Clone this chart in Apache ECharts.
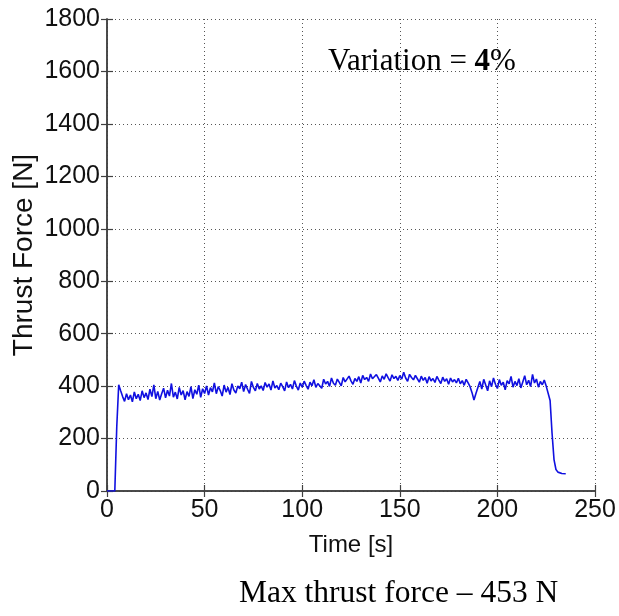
<!DOCTYPE html>
<html>
<head>
<meta charset="utf-8">
<script src="https://cdn.jsdelivr.net/npm/echarts@6/dist/echarts.min.js"></script>
<style>html,body{margin:0;padding:0;background:#fff}#c{width:619px;height:616px}</style>
</head>
<body>
<div id="c"></div>
<script>
// Time stamps [s]
const time = [
  0,1,2,3,4,5,6,7,8,9,
  10,11,12,13,14,15,16,17,18,19,
  20,21,22,23,24,25,26,27,28,29,
  30,31,32,33,34,35,36,37,38,39,
  40,41,42,43,44,45,46,47,48,49,
  50,51,52,53,54,55,56,57,58,59,
  60,61,62,63,64,65,66,67,68,69,
  70,71,72,73,74,75,76,77,78,79,
  80,81,82,83,84,85,86,87,88,89,
  90,91,92,93,94,95,96,97,98,99,
  100,101,102,103,104,105,106,107,108,109,
  110,111,112,113,114,115,116,117,118,119,
  120,121,122,123,124,125,126,127,128,129,
  130,131,132,133,134,135,136,137,138,139,
  140,141,142,143,144,145,146,147,148,149,
  150,151,152,153,154,155,156,157,158,159,
  160,161,162,163,164,165,166,167,168,169,
  170,171,172,173,174,175,176,177,178,179,
  180,181,182,183,184,185,186,187,188,189,
  190,191,192,193,194,195,196,197,198,199,
  200,201,202,203,204,205,206,207,208,209,
  210,211,212,213,214,215,216,217,218,219,
  220,221,222,223,224,225,226,227,228,229,
  230,231,232,233,234,235
];
// Thrust force [N]
const thrust = [
  0,0,0,0,0,245,405,382,360,342,
  371,348,366,340,378,352,369,345,382,356,
  374,349,388,360,405,352,380,347,371,392,
  355,384,362,410,358,377,351,395,366,383,
  348,379,361,398,352,386,369,404,357,390,
  372,401,366,394,378,412,371,398,383,362,
  404,377,395,368,409,385,374,401,390,415,
  379,406,388,372,418,395,382,410,389,401,
  383,414,396,408,385,420,393,402,386,411,
  398,382,416,394,407,389,421,400,385,412,
  396,419,403,388,415,401,424,395,410,405,
  392,426,408,418,399,431,411,403,427,414,
  401,433,416,409,438,420,407,429,418,436,
  412,441,425,433,418,446,428,421,444,430,
  416,439,426,447,432,419,443,429,437,422,
  440,427,453,431,418,445,433,424,441,428,
  415,438,422,433,411,436,420,429,414,437,
  423,410,434,418,428,407,431,416,425,412,
  430,409,421,403,426,412,398,375,347,372,
  395,418,389,426,404,382,420,398,431,407,
  391,425,403,415,386,421,409,437,396,418,
  402,428,393,416,440,405,422,398,445,412,
  427,396,418,405,423,400,400,345,220,120,
  82,72,68,67,66,66
];
const xTicks = [0, 50, 100, 150, 200, 250];
const yTicks = [0, 200, 400, 600, 800, 1000, 1200, 1400, 1600, 1800];

const pts = time.map((t, i) => [t, thrust[i]]);
const axisFont = 'Liberation Sans';
const gridLine = {show: true, lineStyle: {color: '#555', type: [1, 3], width: 1}};
const frame = {show: true, lineStyle: {color: '#404040', width: 1.5}};
const tick = {show: true, inside: true, length: 6, lineStyle: {color: '#404040', width: 1.2}};

const chart = echarts.init(document.getElementById('c'), null, {renderer: 'canvas'});
chart.setOption({
  animation: false,
  backgroundColor: '#fff',
  grid: {left: 107, top: 19, right: 24, bottom: 125, containLabel: false},
  xAxis: [{
    type: 'value', min: xTicks[0], max: xTicks[xTicks.length - 1], interval: 50,
    axisLine: frame, axisTick: tick, splitLine: gridLine,
    axisLabel: {color: '#111', fontFamily: axisFont, fontSize: 25, margin: 7, formatter: v => String(v)},
    name: 'Time [s]', nameLocation: 'middle', nameGap: 42,
    nameTextStyle: {color: '#111', fontFamily: axisFont, fontSize: 24}
  }, {
    type: 'value', position: 'top', min: xTicks[0], max: xTicks[xTicks.length - 1], interval: 50,
    axisLine: frame, axisTick: tick, splitLine: {show: false}, axisLabel: {show: false}
  }],
  yAxis: [{
    type: 'value', min: yTicks[0], max: yTicks[yTicks.length - 1], interval: 200,
    axisLine: frame, axisTick: tick, splitLine: gridLine,
    axisLabel: {color: '#111', fontFamily: axisFont, fontSize: 25, margin: 7, formatter: v => String(v)},
    name: 'Thrust Force [N]', nameLocation: 'middle', nameGap: 69, nameRotate: 90,
    nameMoveOverlap: false,
    nameTextStyle: {color: '#111', fontFamily: axisFont, fontSize: 28}
  }, {
    type: 'value', position: 'right', min: yTicks[0], max: yTicks[yTicks.length - 1], interval: 200,
    axisLine: frame, axisTick: tick, splitLine: {show: false}, axisLabel: {show: false}
  }],
  series: [{
    type: 'line', data: pts, showSymbol: false, symbol: 'none',
    xAxisIndex: 0, yAxisIndex: 0,
    lineStyle: {color: '#1010e0', width: 1.6}
  }],
  graphic: [{
    type: 'text', left: 328, top: 46,
    style: {
      text: '{n|Variation = }{b|4}{n|%}',
      rich: {
        n: {fontFamily: 'Liberation Serif', fontSize: 31, fill: '#000'},
        b: {fontFamily: 'Liberation Serif', fontSize: 31, fontWeight: 'bold', fill: '#000'}
      }
    }
  }, {
    type: 'text', left: 239, top: 578,
    style: {text: 'Max thrust force \u2013 453 N', fontFamily: 'Liberation Serif', fontSize: 31.5, fill: '#000'}
  }]
});
</script>
</body>
</html>
